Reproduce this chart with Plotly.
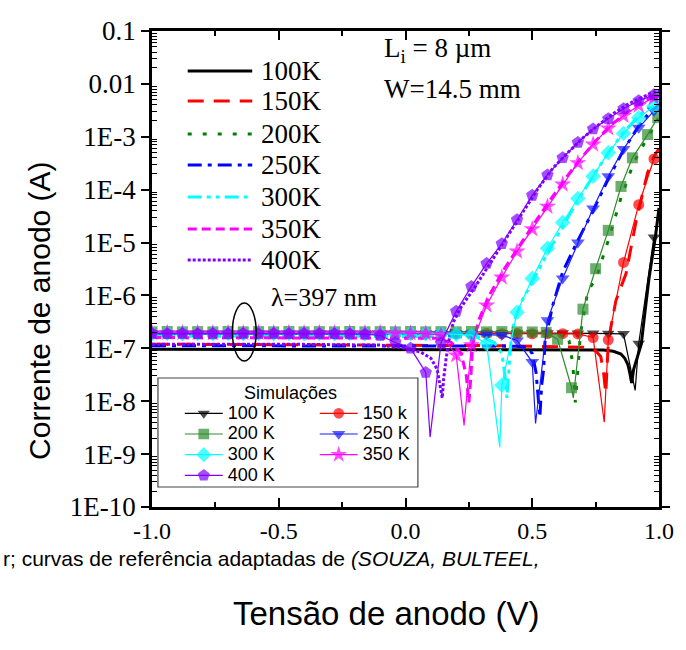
import plotly.graph_objects as go

# ---------------- data ----------------
temps = ["100K", "150K", "200K", "250K", "300K", "350K", "400K"]
sim_names = ["100 K", "150 k", "200 K", "250 K", "300 K", "350 K", "400 K"]

# reference (measured) curves: anode voltage (V) and anode current (A)
ref_v_100 = [-1.0, -0.5, 0.0, 0.5, 0.78, 0.82, 0.85, 0.865, 0.878, 0.886, 0.892, 0.90, 0.915, 0.93, 0.945, 0.96, 0.975, 0.986, 1.0]
ref_i_100 = [9.6e-8, 9.6e-8, 9.6e-8, 9.5e-8, 9.3e-8, 8.8e-8, 7.8e-8, 6.5e-8, 4.8e-8, 3.2e-8, 2.2e-8, 4.0e-8, 7.0e-8, 1.2e-7, 5.0e-7, 2.0e-6, 6.0e-6, 1.3e-5, 4.5e-5]

ref_v_150 = [-1.0, -0.5, 0.0, 0.4, 0.70, 0.75, 0.77, 0.78, 0.79, 0.795, 0.80, 0.81, 0.83, 0.87, 0.91, 0.955, 0.98, 1.0]
ref_i_150 = [1.2e-7, 1.18e-7, 1.15e-7, 1.12e-7, 1.05e-7, 9.0e-8, 7.0e-8, 4.0e-8, 1.4e-8, 6.0e-8, 1.3e-7, 2.5e-7, 8.0e-7, 2.6e-6, 2.6e-5, 2.1e-4, 4.2e-4, 6.0e-4]

ref_v_200 = [-1.0, -0.5, 0.0, 0.3, 0.58, 0.62, 0.645, 0.66, 0.67, 0.68, 0.69, 0.72, 0.75, 0.80, 0.85, 0.90, 0.95, 1.0]
ref_i_200 = [2.1e-7, 2.1e-7, 2.1e-7, 2.1e-7, 2.05e-7, 1.9e-7, 1.4e-7, 5.0e-8, 9.5e-9, 4.0e-8, 1.9e-7, 1.26e-6, 2.0e-6, 1.1e-5, 7.0e-5, 3.2e-4, 8.9e-4, 2.2e-3]

ref_v_250 = [-1.0, -0.5, 0.0, 0.44, 0.48, 0.50, 0.515, 0.525, 0.53, 0.537, 0.545, 0.55, 0.58, 0.62, 0.68, 0.74, 0.80, 0.86, 0.92, 0.96, 1.0]
ref_i_250 = [1.12e-7, 1.12e-7, 1.12e-7, 1.1e-7, 1.05e-7, 8.0e-8, 3.5e-8, 8.0e-9, 5.0e-9, 2.0e-8, 4.0e-8, 1.3e-7, 6.3e-7, 2.8e-6, 1.1e-5, 4.0e-5, 1.6e-4, 5.6e-4, 1.6e-3, 2.8e-3, 4.0e-3]

ref_v_300 = [-1.0, -0.5, 0.0, 0.30, 0.35, 0.38, 0.395, 0.40, 0.405, 0.415, 0.43, 0.46, 0.50, 0.56, 0.62, 0.68, 0.74, 0.80, 0.86, 0.92, 1.0]
ref_i_300 = [1.7e-7, 1.7e-7, 1.68e-7, 1.6e-7, 1.3e-7, 8.0e-8, 2.5e-8, 1.15e-8, 3.0e-8, 1.2e-7, 3.5e-7, 8.0e-7, 1.8e-6, 6.3e-6, 2.0e-5, 6.3e-5, 1.8e-4, 5.0e-4, 1.2e-3, 2.5e-3, 5.0e-3]

ref_v_350 = [-1.0, -0.5, 0.0, 0.12, 0.18, 0.22, 0.24, 0.25, 0.258, 0.265, 0.29, 0.33, 0.39, 0.45, 0.51, 0.57, 0.63, 0.69, 0.75, 0.81, 0.87, 0.93, 1.0]
ref_i_350 = [1.6e-7, 1.6e-7, 1.58e-7, 1.55e-7, 1.3e-7, 8.0e-8, 3.0e-8, 9.5e-9, 3.0e-8, 1.2e-7, 3.5e-7, 1.0e-6, 3.2e-6, 8.9e-6, 2.4e-5, 6.3e-5, 1.6e-4, 3.8e-4, 8.3e-4, 1.66e-3, 2.8e-3, 4.5e-3, 6.3e-3]

ref_v_400 = [-1.0, -0.5, -0.1, 0.0, 0.06, 0.10, 0.125, 0.14, 0.145, 0.15, 0.16, 0.175, 0.19, 0.215, 0.28, 0.34, 0.40, 0.46, 0.52, 0.58, 0.64, 0.70, 0.76, 0.82, 0.88, 0.94, 1.0]
ref_i_400 = [1.2e-7, 1.2e-7, 1.15e-7, 1.0e-7, 8.5e-8, 6.5e-8, 4.0e-8, 1.5e-8, 1.15e-8, 2.5e-8, 6.3e-8, 1.8e-7, 3.2e-7, 5.6e-7, 1.6e-6, 4.5e-6, 1.26e-5, 3.5e-5, 1.0e-4, 2.5e-4, 5.0e-4, 9.5e-4, 1.66e-3, 2.75e-3, 4.2e-3, 5.75e-3, 7.6e-3]

# simulated curves (markers), common voltage sampling
sim_v = [-1.00, -0.94, -0.88, -0.82, -0.76, -0.70, -0.64, -0.58, -0.52, -0.46,
         -0.40, -0.34, -0.28, -0.22, -0.16, -0.10, -0.04, 0.02, 0.08, 0.14,
         0.20, 0.26, 0.32, 0.38, 0.44, 0.50, 0.56, 0.62, 0.68, 0.74,
         0.80, 0.86, 0.92, 0.98]
sim_v_200 = [-1.00, -0.94, -0.88, -0.82, -0.76, -0.70, -0.64, -0.58, -0.52, -0.46,
             -0.40, -0.34, -0.28, -0.22, -0.16, -0.10, -0.04, 0.02, 0.08, 0.14,
             0.20, 0.26, 0.32, 0.38, 0.44, 0.50, 0.555, 0.60, 0.655, 0.70,
             0.75, 0.80, 0.85, 0.895, 0.955, 0.995]

sim_i_100 = [1.95e-7, 1.92e-7, 1.95e-7, 1.93e-7, 1.95e-7, 1.92e-7, 1.94e-7, 1.95e-7, 1.93e-7, 1.95e-7,
             1.92e-7, 1.94e-7, 1.95e-7, 1.93e-7, 1.95e-7, 1.94e-7, 1.95e-7, 1.93e-7, 1.95e-7, 1.94e-7,
             1.95e-7, 1.93e-7, 1.95e-7, 1.94e-7, 1.95e-7, 1.94e-7, 1.95e-7, 1.94e-7, 1.93e-7, 1.92e-7,
             1.90e-7, 1.88e-7, 1.23e-7, 1.26e-5]
sim_i_150 = [1.9e-7, 1.88e-7, 1.9e-7, 1.89e-7, 1.9e-7, 1.88e-7, 1.9e-7, 1.89e-7, 1.9e-7, 1.88e-7,
             1.9e-7, 1.89e-7, 1.9e-7, 1.88e-7, 1.9e-7, 1.89e-7, 1.9e-7, 1.88e-7, 1.9e-7, 1.89e-7,
             1.9e-7, 1.88e-7, 1.9e-7, 1.89e-7, 1.9e-7, 1.88e-7, 1.9e-7, 1.89e-7, 1.87e-7, 1.6e-7,
             1.45e-7, 4.2e-6, 5.2e-5, 3.8e-4]
sim_i_200 = [2.05e-7, 2.08e-7, 2.05e-7, 2.07e-7, 2.05e-7, 2.08e-7, 2.05e-7, 2.07e-7, 2.05e-7, 2.08e-7,
             2.05e-7, 2.07e-7, 2.05e-7, 2.08e-7, 2.05e-7, 2.07e-7, 2.05e-7, 2.08e-7, 2.05e-7, 2.07e-7,
             2.05e-7, 2.08e-7, 2.05e-7, 2.07e-7, 2.05e-7, 2.04e-7, 2.0e-7, 1.48e-7, 1.8e-8, 5.5e-7,
             3.2e-6, 1.7e-5, 1.15e-4, 4.0e-4, 1.1e-3, 2.3e-3]
sim_i_250 = [1.85e-7, 1.87e-7, 1.85e-7, 1.86e-7, 1.85e-7, 1.87e-7, 1.85e-7, 1.86e-7, 1.85e-7, 1.87e-7,
             1.85e-7, 1.86e-7, 1.85e-7, 1.87e-7, 1.85e-7, 1.86e-7, 1.85e-7, 1.87e-7, 1.85e-7, 1.86e-7,
             1.85e-7, 1.84e-7, 1.82e-7, 1.78e-7, 1.41e-7, 5.5e-8, 3.4e-7, 2.1e-6, 1.0e-5, 4.4e-5,
             1.8e-4, 5.9e-4, 1.48e-3, 3.1e-3]
sim_i_300 = [1.9e-7, 1.92e-7, 1.9e-7, 1.91e-7, 1.9e-7, 1.92e-7, 1.9e-7, 1.91e-7, 1.9e-7, 1.92e-7,
             1.9e-7, 1.91e-7, 1.9e-7, 1.92e-7, 1.9e-7, 1.91e-7, 1.9e-7, 1.92e-7, 1.9e-7, 1.89e-7,
             1.85e-7, 1.78e-7, 1.23e-7, 2.0e-8, 4.8e-7, 2.1e-6, 7.8e-6, 2.4e-5, 6.8e-5, 1.8e-4,
             5.0e-4, 1.15e-3, 2.3e-3, 3.8e-3]
sim_i_350 = [1.95e-7, 1.97e-7, 1.95e-7, 1.96e-7, 1.95e-7, 1.97e-7, 1.95e-7, 1.96e-7, 1.95e-7, 1.97e-7,
             1.95e-7, 1.96e-7, 1.95e-7, 1.97e-7, 1.95e-7, 1.96e-7, 1.95e-7, 1.93e-7, 1.9e-7, 1.8e-7,
             7.4e-8, 1.15e-7, 6.5e-7, 2.2e-6, 6.8e-6, 1.8e-5, 4.8e-5, 1.26e-4, 3.2e-4, 7.2e-4,
             1.45e-3, 2.5e-3, 3.9e-3, 5.5e-3]
sim_i_400 = [1.9e-7, 1.88e-7, 1.9e-7, 1.89e-7, 1.9e-7, 1.88e-7, 1.9e-7, 1.89e-7, 1.9e-7, 1.88e-7,
             1.9e-7, 1.89e-7, 1.88e-7, 1.87e-7, 1.85e-7, 1.75e-7, 1.29e-7, 1.0e-7, 3.5e-8, 1.26e-7,
             5.0e-7, 1.48e-6, 4.0e-6, 9.5e-6, 2.7e-5, 7.8e-5, 1.9e-4, 4.0e-4, 7.8e-4, 1.4e-3,
             2.2e-3, 3.4e-3, 4.8e-3, 6.2e-3]

# zero-crossing (dip) of each simulated curve: voltage, |current|
sim_dip_v = [0.906, 0.784, 0.662, 0.513, 0.372, 0.231, 0.097]
sim_dip_i = [1.6e-8, 4.0e-9, 1.15e-8, 3.8e-9, 1.35e-9, 3.5e-9, 2.1e-9]

y_tickvals = [1e-10, 1e-9, 1e-8, 1e-7, 1e-6, 1e-5, 1e-4, 1e-3, 1e-2, 1e-1]
y_ticktext = ["1E-10", "1E-9", "1E-8", "1E-7", "1E-6", "1E-5", "1E-4", "1E-3", "0.01", "0.1"]
x_tickvals = [-1.0, -0.5, 0.0, 0.5, 1.0]
x_ticktext = ["-1.0", "-0.5", "0.0", "0.5", "1.0"]

# ---------------- styles ----------------
ref_colors = ["#000000", "#ff0000", "#008000", "#0000ff", "#00ffff", "#ff00ff", "#8000ff"]
ref_dashes = ["solid", "16px,10px", "4px,11px", "14px,6px,4px,6px", "14px,5px,4px,5px,4px,5px", "9px,5px", "3px,2px"]
sim_colors = ["#000000", "#ff0000", "#2e8b2e", "#1a1aff", "#00ffff", "#ff00ff", "#8000ff"]
sim_symbols = ["triangle-down", "circle", "square", "triangle-down", "diamond", "star", "pentagon"]
sim_sizes = [11, 11, 11, 12, 12, 13, 13]

SERIF = "Liberation Serif"
SANS = "Liberation Sans"

L, R, T, B = 152, 663, 31, 507
W, H = 686, 650


def px(x):
    return (x - L) / (R - L)


def py(y):
    return (B - y) / (B - T)


ref_v = [ref_v_100, ref_v_150, ref_v_200, ref_v_250, ref_v_300, ref_v_350, ref_v_400]
ref_i = [ref_i_100, ref_i_150, ref_i_200, ref_i_250, ref_i_300, ref_i_350, ref_i_400]
sim_vs = [sim_v, sim_v, sim_v_200, sim_v, sim_v, sim_v, sim_v]
sim_is = [sim_i_100, sim_i_150, sim_i_200, sim_i_250, sim_i_300, sim_i_350, sim_i_400]

fig = go.Figure()

for k in range(7):
    fig.add_trace(go.Scatter(
        x=ref_v[k], y=ref_i[k], mode="lines", name=temps[k], showlegend=False,
        line=dict(color=ref_colors[k], width=3, dash=ref_dashes[k]),
    ))

legend_for = ["legend2", "legend3", "legend2", "legend3", "legend2", "legend3", "legend2"]
for k in range(7):
    pts = sorted(list(zip(sim_vs[k], sim_is[k], [True] * len(sim_vs[k]))) +
                 [(sim_dip_v[k], sim_dip_i[k], False)])
    xs = [p[0] for p in pts]
    ys = [p[1] for p in pts]
    sizes = [sim_sizes[k] if p[2] else 0 for p in pts]
    fig.add_trace(go.Scatter(
        x=xs, y=ys, mode="lines+markers",
        name='<span style="font-size:18px">' + sim_names[k] + "</span>",
        legend=legend_for[k],
        line=dict(color=sim_colors[k], width=1.2),
        marker=dict(symbol=sim_symbols[k], size=sizes, color=sim_colors[k],
                    line=dict(width=0)),
    ))

shapes = []
annotations = []

# reference legend (top-left), drawn manually
leg_rows = [71, 101, 134, 165, 197, 229, 260]
for k in range(7):
    shapes.append(dict(type="line", xref="paper", yref="paper",
                       x0=px(188), x1=px(253), y0=py(leg_rows[k]), y1=py(leg_rows[k]),
                       line=dict(color=ref_colors[k], width=3, dash=ref_dashes[k])))
    annotations.append(dict(xref="paper", yref="paper", x=px(260), y=py(leg_rows[k]),
                            xanchor="left", yanchor="middle", showarrow=False,
                            text=temps[k], font=dict(family=SERIF, size=27, color="black")))

# simulation legend box and title
shapes.append(dict(type="rect", xref="paper", yref="paper",
                   x0=px(158), x1=px(420), y0=py(487), y1=py(378),
                   line=dict(color="#444444", width=1.2), fillcolor="rgba(255,255,255,0)"))
annotations.append(dict(xref="paper", yref="paper", x=px(292), y=py(393),
                        xanchor="center", yanchor="middle", showarrow=False,
                        text="Simulações", font=dict(family=SANS, size=18, color="black")))

# ellipse around the plateau
shapes.append(dict(type="circle", xref="paper", yref="paper",
                   x0=px(233), x1=px(257), y0=py(361), y1=py(303),
                   line=dict(color="black", width=1.5)))

annotations += [
    dict(xref="paper", yref="paper", x=px(270), y=py(297), xanchor="left", yanchor="middle",
         showarrow=False, text="λ=397 nm", font=dict(family=SERIF, size=26, color="black")),
    dict(xref="paper", yref="paper", x=px(384), y=py(50), xanchor="left", yanchor="middle",
         showarrow=False, text="L<sub>i</sub> = 8 µm", font=dict(family=SERIF, size=27, color="black")),
    dict(xref="paper", yref="paper", x=px(384), y=py(89), xanchor="left", yanchor="middle",
         showarrow=False, text="W=14.5 mm", font=dict(family=SERIF, size=27, color="black")),
    dict(xref="paper", yref="paper", x=px(38), y=py(310), xanchor="center", yanchor="middle",
         textangle=-90, showarrow=False, text="Corrente de anodo (A)",
         font=dict(family=SANS, size=30, color="black")),
    dict(xref="paper", yref="paper", x=px(388), y=py(613), xanchor="center", yanchor="middle",
         showarrow=False, text="Tensão de anodo (V)",
         font=dict(family=SANS, size=33, color="black")),
    dict(xref="paper", yref="paper", x=px(0), y=py(558), xanchor="left", yanchor="middle",
         showarrow=False, text="r; curvas de referência adaptadas de <i>(SOUZA, BULTEEL,</i>",
         font=dict(family=SANS, size=21, color="black")),
]

minor_y = [m * d for d in [1e-10, 1e-9, 1e-8, 1e-7, 1e-6, 1e-5, 1e-4, 1e-3, 1e-2] for m in range(2, 10)]

legend_common = dict(bgcolor="rgba(0,0,0,0)", borderwidth=0, tracegroupgap=0,
                     font=dict(family=SANS, size=13.6, color="black"),
                     itemwidth=38, xanchor="left", yanchor="top")

fig.update_layout(
    width=W, height=H,
    margin=dict(l=L, r=W - R, t=T, b=H - B),
    paper_bgcolor="white", plot_bgcolor="white",
    showlegend=True,
    legend2=dict(x=px(180), y=py(398), **legend_common),
    legend3=dict(x=px(316), y=py(398), **legend_common),
    shapes=shapes, annotations=annotations,
    xaxis=dict(range=[-1.0, 1.0], tickmode="array", tickvals=x_tickvals, ticktext=x_ticktext,
               ticks="inside", ticklen=9, tickwidth=2, tickcolor="black",
               showline=True, linewidth=2.5, linecolor="black", mirror="allticks",
               showgrid=False, zeroline=False,
               tickfont=dict(family=SERIF, size=24, color="black"),
               minor=dict(tickvals=[-0.75, -0.25, 0.25, 0.75], ticks="inside", ticklen=5,
                          tickwidth=1.5, tickcolor="black", showgrid=False)),
    yaxis=dict(type="log", range=[-10, -1], tickmode="array", tickvals=y_tickvals, ticktext=y_ticktext,
               ticks="outside", ticklen=8, tickwidth=2, tickcolor="black",
               showline=True, linewidth=2.5, linecolor="black", mirror="allticks",
               showgrid=False, zeroline=False,
               tickfont=dict(family=SERIF, size=27, color="black"),
               minor=dict(tickvals=minor_y, ticks="inside", ticklen=5, tickwidth=1.2,
                          tickcolor="black", showgrid=False)),
)

fig.write_html("out.html")
